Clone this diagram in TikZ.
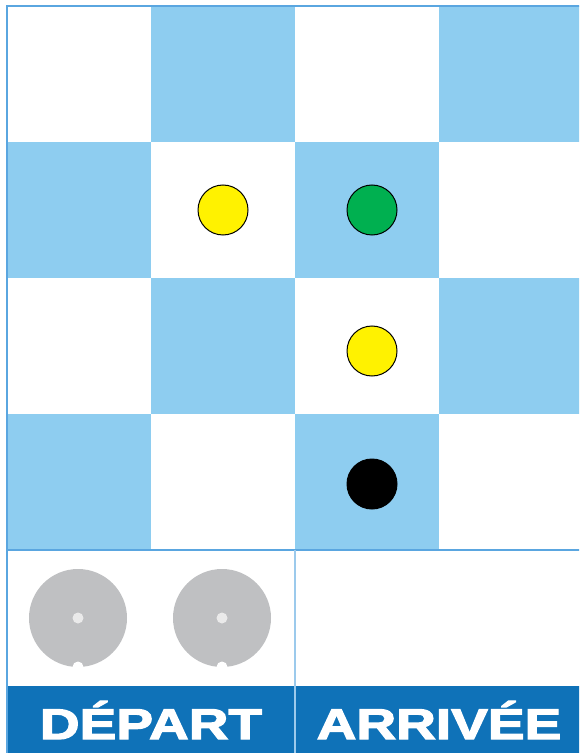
\documentclass[tikz,border=0pt]{standalone}
\usepackage{fontspec}
\newfontfamily\bandfont[FakeStretch=1.28, BoldFeatures={FakeBold=3}]{Liberation Sans}
\definecolor{skyblue}{HTML}{8ECDF0}
\definecolor{bandblue}{HTML}{0F72B8}
\definecolor{gridblue}{HTML}{5AA6E0}
\definecolor{diskgray}{HTML}{BFC0C2}
\definecolor{dotgray}{HTML}{EAEAEA}
\definecolor{greenpawn}{HTML}{00B050}
\begin{document}
\begin{tikzpicture}[x=0.5pt, y=-0.5pt,
    pawn/.style={draw=black, line width=0.5pt},
    disk/.style={fill=diskgray},
    label/.style={text=white, font=\bandfont\bfseries\fontsize{21.5}{22}\selectfont}]
    \useasboundingbox (0,0) rectangle (579,753);
    \clip (0,0) rectangle (579,753);
    \def\W{144}
    \def\H{136}
    % Checkerboard
    \foreach \c in {0,...,3}
      \foreach \r in {0,...,3}{
        \pgfmathparse{int(mod(\c+\r,2))}
        \ifnum\pgfmathresult=1
          \fill[skyblue] (7+\c*\W,6+\r*\H) rectangle ++(\W,\H);
        \fi
      }
    % Start and finish boxes
    \fill[bandblue] (7,686) rectangle (583,753);
    \draw[gridblue, line width=0.6pt] (7,550) -- (583,550);
    \draw[gridblue!60, line width=0.6pt] (295,550) -- (295,753);
    \draw[gridblue, line width=1pt] (7,753) -- (7,6) -- (583,6);
    % Pawns
    \filldraw[pawn, fill=yellow] (223,210) circle (25);
    \filldraw[pawn, fill=greenpawn] (372,210) circle (25);
    \filldraw[pawn, fill=yellow] (372,351) circle (25);
    \filldraw[pawn, fill=black] (372,484) circle (25);
    % Gray disks
    \foreach \x in {78,222}{
      \fill[disk] (\x,618) circle (49);
      \fill[dotgray] (\x,618) circle (5.5);
      \fill[white] (\x,667) circle (5.5);
    }
    % Labels
    \node[label] (depart) at (151,720) {DÉPART};
    \node[label] (arrivee) at (439,720) {ARRIVÉE};
\end{tikzpicture}
\end{document}
